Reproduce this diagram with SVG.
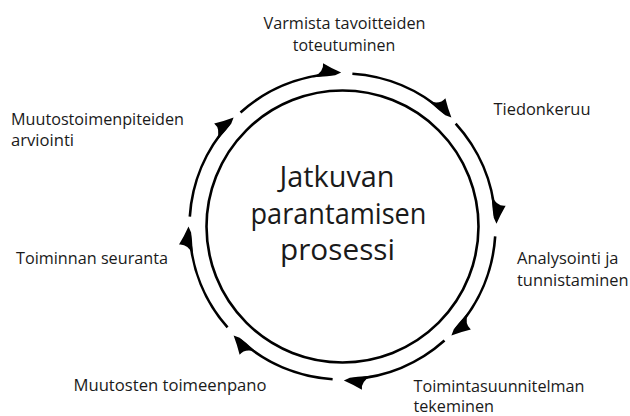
<svg xmlns="http://www.w3.org/2000/svg" xmlns:xlink="http://www.w3.org/1999/xlink" width="630" height="416" viewBox="0 0 630 416">
<style>
.lbl{font-family:"Open Sans","Noto Sans","DejaVu Sans",sans-serif;font-size:16px;fill:#1a1a1a}
.ctr{font-family:"Open Sans","Noto Sans","DejaVu Sans",sans-serif;font-size:29px;fill:#1a1a1a;text-anchor:middle}
.ring{fill:none;stroke:#000;stroke-width:2.6}
.ah{fill:#000;stroke:none}
</style>
<defs>
<path id="seg" d="M241.52,111.55 A153,153 0 0 1 334.49,73.71"/>
<path id="ah" d="M0,-1 Q-9,-5 -18,-10.5 Q-17,-2 -28,3.4 L-14,2.5 L-6,1.6 Z"/>
</defs>
<rect width="630" height="416" fill="#fff"/>
<g id="center">
<circle cx="342.5" cy="226.5" r="136" class="ring"/>
<text class="ctr" x="337" y="186.5" textLength="115" lengthAdjust="spacingAndGlyphs">Jatkuvan</text>
<text class="ctr" x="338.5" y="224" textLength="176" lengthAdjust="spacingAndGlyphs">parantamisen</text>
<text class="ctr" x="337.5" y="260" textLength="115" lengthAdjust="spacingAndGlyphs">prosessi</text>
</g>
<g id="connectors">
<use xlink:href="#seg" class="ring" transform="rotate(45 342.5 226.5)"/>
<use xlink:href="#seg" class="ring" transform="rotate(89 342.5 226.5)"/>
<use xlink:href="#seg" class="ring" transform="rotate(135 342.5 226.5)"/>
<use xlink:href="#seg" class="ring" transform="rotate(179.5 342.5 226.5)"/>
<use xlink:href="#seg" class="ring" transform="rotate(225 342.5 226.5)"/>
<use xlink:href="#seg" class="ring" transform="rotate(270 342.5 226.5)"/>
<use xlink:href="#seg" class="ring" transform="rotate(315 342.5 226.5)"/>
<use xlink:href="#seg" class="ring" transform="rotate(359.5 342.5 226.5)"/>
<use xlink:href="#ah" class="ah" transform="rotate(45 342.5 226.5) translate(342.5 73.5)"/>
<use xlink:href="#ah" class="ah" transform="rotate(89 342.5 226.5) translate(342.5 73.5)"/>
<use xlink:href="#ah" class="ah" transform="rotate(135 342.5 226.5) translate(342.5 73.5)"/>
<use xlink:href="#ah" class="ah" transform="rotate(179.5 342.5 226.5) translate(342.5 73.5)"/>
<use xlink:href="#ah" class="ah" transform="rotate(225 342.5 226.5) translate(342.5 73.5)"/>
<use xlink:href="#ah" class="ah" transform="rotate(270 342.5 226.5) translate(342.5 73.5)"/>
<use xlink:href="#ah" class="ah" transform="rotate(315 342.5 226.5) translate(342.5 73.5)"/>
<use xlink:href="#ah" class="ah" transform="rotate(359.5 342.5 226.5) translate(342.5 73.5)"/>
</g>
<g id="n-varmista">
<text class="lbl" x="344.5" y="29" text-anchor="middle" textLength="162" lengthAdjust="spacingAndGlyphs">Varmista tavoitteiden</text>
<text class="lbl" x="344" y="51" text-anchor="middle" textLength="102.5" lengthAdjust="spacingAndGlyphs">toteutuminen</text>
</g>
<g id="n-tiedonkeruu">
<text class="lbl" x="493.5" y="114.5" textLength="97" lengthAdjust="spacingAndGlyphs">Tiedonkeruu</text>
</g>
<g id="n-analysointi">
<text class="lbl" x="517" y="263.5" textLength="101.5" lengthAdjust="spacingAndGlyphs">Analysointi ja</text>
<text class="lbl" x="517" y="285.5" textLength="111.5" lengthAdjust="spacingAndGlyphs">tunnistaminen</text>
</g>
<g id="n-toimintasuunnitelma">
<text class="lbl" x="413.5" y="391.5" textLength="171" lengthAdjust="spacingAndGlyphs">Toimintasuunnitelman</text>
<text class="lbl" x="413.5" y="411.5" textLength="80.5" lengthAdjust="spacingAndGlyphs">tekeminen</text>
</g>
<g id="n-toimeenpano">
<text class="lbl" x="73.5" y="390.5" textLength="193" lengthAdjust="spacingAndGlyphs">Muutosten toimeenpano</text>
</g>
<g id="n-seuranta">
<text class="lbl" x="16" y="263.5" textLength="152" lengthAdjust="spacingAndGlyphs">Toiminnan seuranta</text>
</g>
<g id="n-arviointi">
<text class="lbl" x="11" y="124.5" textLength="173" lengthAdjust="spacingAndGlyphs">Muutostoimenpiteiden</text>
<text class="lbl" x="11" y="145.5" textLength="63" lengthAdjust="spacingAndGlyphs">arviointi</text>
</g>
</svg>
